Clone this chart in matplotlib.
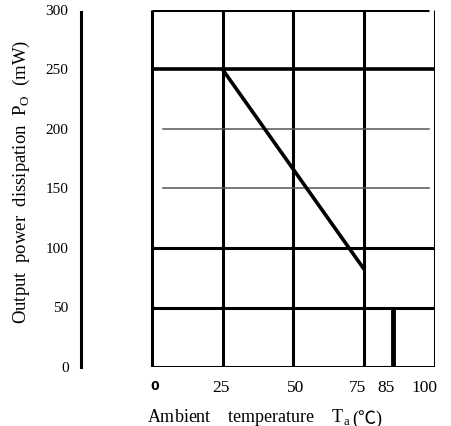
import numpy as np
import matplotlib.pyplot as plt
from matplotlib.transforms import ScaledTranslation

# data
temps = [25, 75]
power = [250, 82]
grid_x = [0, 25, 50, 75, 100]
grid_y_thick = [0, 50, 100, 250]
grid_y_thin = [150, 200]
limit_temp = 85
limit_power = 50
x_ticks = [0, 25, 50, 75, 85, 100]
x_tick_labels = ['0', '25', '50', '75', '85', '100']
x_label_shift = [3, -2, 2, -7, -7, -11]   # px, labels in the scan sit a bit off the lines
y_ticks = [0, 50, 100, 150, 200, 250, 300]

plt.rcParams['font.family'] = ['Liberation Serif', 'DejaVu Serif']
plt.rcParams['mathtext.fontset'] = 'custom'
plt.rcParams['mathtext.rm'] = 'Liberation Serif'

fig = plt.figure(figsize=(4.51, 4.26), dpi=100)
ax = fig.add_axes([81 / 451, 59 / 426, 354 / 451, 357 / 426])
ax.set_xlim(-25, 100)
ax.set_ylim(0, 300)

for s in ['top', 'right', 'bottom']:
    ax.spines[s].set_visible(False)
ax.spines['left'].set_linewidth(2.2)
ax.spines['left'].set_bounds(0, 298)

# grid box
for x in grid_x:
    ax.plot([x, x], [0, 300], color='black', lw=2.2, solid_capstyle='butt')
for y in grid_y_thick:
    ax.plot([0, 100], [y, y], color='black', lw=2.6 if y == 250 else 2.2, solid_capstyle='butt')
ax.plot([0, 98], [300, 300], color='black', lw=2.2, solid_capstyle='butt')
for y in grid_y_thin:
    ax.plot([4, 98], [y, y], color='#555555', lw=1.1)

# derating curve and limit bar
ax.plot(temps, power, color='black', lw=2.6, solid_capstyle='butt')
ax.plot([limit_temp, limit_temp], [0, limit_power], color='black', lw=3.5, solid_capstyle='butt')

ax.set_yticks(y_ticks)
ax.set_yticklabels([str(v) for v in y_ticks], fontsize=11)
ax.tick_params(axis='y', length=0, pad=9)
ax.set_xticks(x_ticks)
ax.set_xticklabels(x_tick_labels, fontsize=12.5)
ax.tick_params(axis='x', length=0, pad=9)
for lbl, dx in zip(ax.get_xticklabels(), x_label_shift):
    lbl.set_transform(lbl.get_transform() + ScaledTranslation(dx / 100, 0, fig.dpi_scale_trans))
lbl0 = ax.get_xticklabels()[0]
lbl0.set_fontfamily('DejaVu Sans')
lbl0.set_fontweight('bold')
lbl0.set_fontsize(9)

fig.text(21 / 451, 1 - 182 / 426, r'Output  power  dissipation  P$_{\mathrm{O}}$  (mW)',
         rotation=90, ha='center', va='center', fontsize=13.5)
xl = fig.text(147 / 451, 1 - 417 / 426, r'Ambient    temperature    T$_{\mathrm{a}}$',
              ha='left', va='center', fontsize=13)
fig.add_artist(plt.Annotation('(℃)', xy=(1, 0), xycoords=xl, xytext=(1, 0),
                              textcoords='offset points', ha='left', va='bottom',
                              fontsize=13, family=['Liberation Serif', 'Noto Sans CJK SC']))

fig.savefig('out.png', dpi=100)
